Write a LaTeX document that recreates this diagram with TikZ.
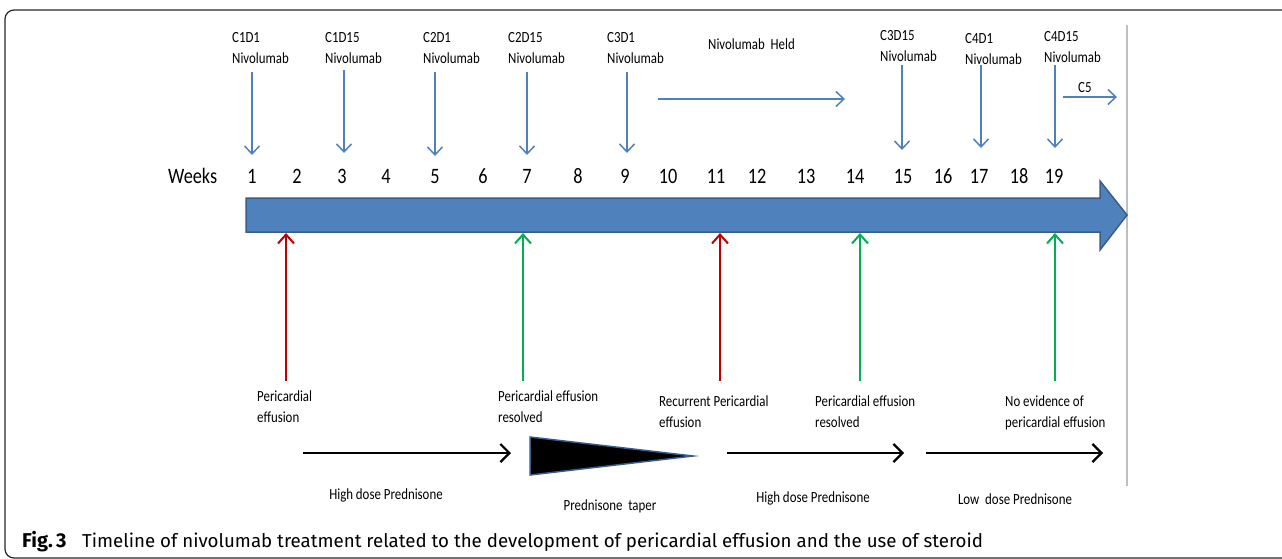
\documentclass[tikz,border=0pt]{standalone}
\usepackage{fontspec}
\usetikzlibrary{arrows.meta}
\newfontfamily\calib[FakeStretch=0.83]{Carlito}
\newfontfamily\capfont{Fira Sans}
\definecolor{obl}{HTML}{4F81BD}
\definecolor{obd}{HTML}{385D8A}
\definecolor{ored}{HTML}{C00000}
\definecolor{ogrn}{HTML}{00B050}
\newcommand\lblfont{\calib\fontsize{15.5}{21}\selectfont}
\newcommand\wkfont{\calib\fontsize{22}{26}\selectfont}
\tikzset{
  lbl/.style={font=\lblfont, align=left, inner sep=0pt, anchor=base west},
  clbl/.style={font=\lblfont, inner sep=0pt, anchor=base},
  wk/.style={font=\wkfont, inner sep=0pt, anchor=base},
  bluearr/.style={draw=obl, line width=1.5pt, -{Straight Barb[length=8pt,width=15pt,line width=1.5pt]}},
  redarr/.style={draw=ored, line width=2pt, -{Straight Barb[length=9pt,width=16pt,line width=2pt]}},
  grnarr/.style={draw=ogrn, line width=2pt, -{Straight Barb[length=9pt,width=16pt,line width=2pt]}},
  blkarr/.style={draw=black, line width=2.2pt, -{Straight Barb[length=9pt,width=18pt,line width=2.2pt]}},
}
\begin{document}
\begin{tikzpicture}[x=1pt,y=-1pt]
\useasboundingbox (0,0) rectangle (1282,558);
% frame
\draw[line width=1.2pt, black!85, rounded corners=9pt] (1295,10) -- (5,10) -- (5,558) -- (1295,558);
% gray vertical line
\draw[black!25, line width=1.2pt] (1127,25) -- (1127,486);
% timeline arrow
\draw[fill=obl, draw=obd, line width=1.5pt, line join=miter] (246,198) -- (1100,198) -- (1100,181) -- (1127,215) -- (1100,250) -- (1100,232) -- (246,232) -- cycle;
% weeks
\node[wk, anchor=base west] (weeks) at (168,183) {Weeks};
\foreach \n/\x in {1/252,2/297,3/342,4/386,5/435,6/483,7/527,8/578,9/625,10/668,11/716,12/757,13/806,14/855,15/903,16/943,17/979,18/1019,19/1054}{
  \node[wk] (w\n) at (\x,183) {\n};
}
% top labels (anchor = baseline of last line)
\node[lbl] (t1) at (232,63) {C1D1\\Nivolumab};
\node[lbl] (t2) at (325,63) {C1D15\\Nivolumab};
\node[lbl] (t3) at (423,63) {C2D1\\Nivolumab};
\node[lbl] (t4) at (508,63) {C2D15\\Nivolumab};
\node[lbl] (t5) at (607,63) {C3D1\\Nivolumab};
\node[lbl] (held) at (708,49) {Nivolumab\ \ Held};
\node[lbl] (t6) at (880,61) {C3D15\\Nivolumab};
\node[lbl] (t7) at (965,64) {C4D1\\Nivolumab};
\node[lbl] (t8) at (1044,62) {C4D15\\Nivolumab};
\node[lbl] (c5) at (1078,92) {C5};
% blue arrows
\foreach \i/\x/\a/\b in {1/252/72/155,2/344/70/153,3/435/72/156,4/527/72/155,5/627/72/153,6/902/65/150,7/981/65/148,8/1055/65/148}{
  \coordinate (bs\i) at (\x,\a);
  \coordinate (be\i) at (\x,\b);
  \draw[bluearr] (bs\i) -- (be\i);
}
\coordinate (hs) at (658,99); \coordinate (he) at (845,99);
\draw[bluearr] (hs) -- (he);
\coordinate (cs) at (1063,97); \coordinate (ce) at (1117,97);
\draw[bluearr] (cs) -- (ce);
% bottom event labels
\node[lbl] (e1) at (257,422) {Pericardial\\effusion};
\node[lbl] (e2) at (498,422) {Pericardial effusion\\resolved};
\node[lbl] (e3) at (659,427) {Recurrent Pericardial\\effusion};
\node[lbl] (e4) at (815,427) {Pericardial effusion\\resolved};
\node[lbl] (e5) at (1005,427) {No evidence of\\pericardial effusion};
% event arrows
\foreach \i/\x/\s in {1/286/redarr,2/523/grnarr,3/720/redarr,4/860/grnarr,5/1055/grnarr}{
  \coordinate (es\i) at (\x,381);
  \coordinate (ee\i) at (\x,233);
  \draw[\s] (es\i) -- (ee\i);
}
% prednisone
\coordinate (p1s) at (303,453); \coordinate (p1e) at (511,453);
\draw[blkarr] (p1s) -- (p1e);
\draw[fill=black, draw=obd, line width=1.5pt, line join=miter] (530,437) -- (693,456) -- (530,475) -- cycle;
\coordinate (p2s) at (727,453); \coordinate (p2e) at (904,453);
\draw[blkarr] (p2s) -- (p2e);
\coordinate (p3s) at (926,453); \coordinate (p3e) at (1103,453);
\draw[blkarr] (p3s) -- (p3e);
\node[clbl] (d1) at (386,499) {High\ dose\ Prednisone};
\node[clbl] (d2) at (610,510) {Prednisone\ \ taper};
\node[clbl] (d3) at (813,502) {High\ dose\ Prednisone};
\node[clbl] (d4) at (1015,504) {Low\ \ dose\ Prednisone};
% caption
\node[anchor=base west, inner sep=0pt, font=\capfont\fontsize{18.7}{22}\selectfont] (cap) at (22,547) {\makebox[60pt][l]{\fontsize{20}{22}\selectfont\textbf{Fig.\,3}}Timeline of nivolumab treatment related to the development of pericardial effusion and the use of steroid};
\end{tikzpicture}
\end{document}
